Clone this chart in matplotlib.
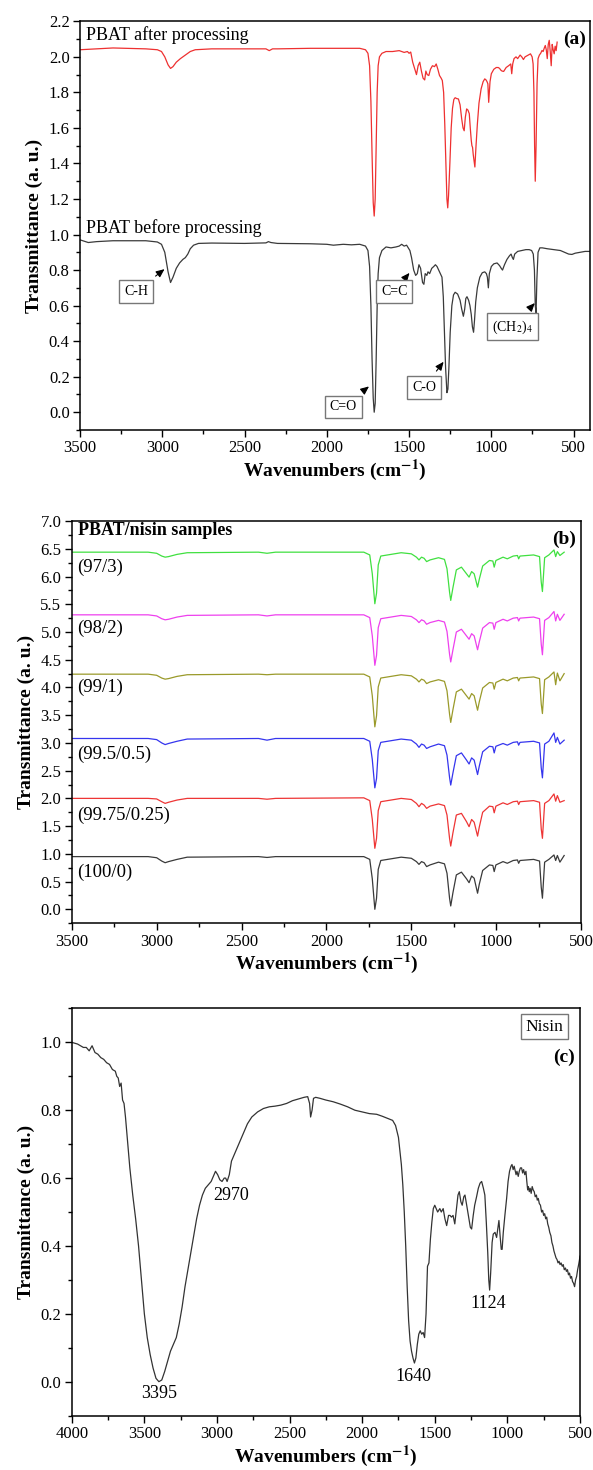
import numpy as np
import matplotlib
matplotlib.use("Agg")
import matplotlib.pyplot as plt
from matplotlib.ticker import MultipleLocator, FormatStrFormatter

plt.rcParams['font.family'] = ['Liberation Serif', 'DejaVu Serif']
plt.rcParams['mathtext.fontset'] = 'stix'

# ---------------- panel (a): PBAT before / after processing ----------------
wn_before = [3500, 3450, 3400, 3300, 3100, 3030, 3005, 2985, 2965, 2950,
             2935, 2915, 2895, 2875, 2860, 2845, 2830, 2810, 2780, 2700,
             2500, 2370, 2355, 2340, 2300, 2100, 2000, 1960, 1900, 1850,
             1800, 1765, 1750, 1740, 1732, 1725, 1718, 1712, 1706, 1700,
             1694, 1688, 1680, 1665, 1640, 1610, 1580, 1560, 1545, 1530,
             1515, 1505, 1495, 1485, 1472, 1460, 1450, 1440, 1430, 1418,
             1410, 1402, 1392, 1385, 1375, 1362, 1350, 1340, 1330, 1320,
             1310, 1300, 1292, 1285, 1278, 1270, 1264, 1258, 1250, 1240,
             1230, 1220, 1205, 1190, 1180, 1170, 1162, 1155, 1148, 1138,
             1130, 1122, 1115, 1108, 1102, 1095, 1085, 1070, 1055, 1040,
             1030, 1024, 1018, 1012, 1000, 985, 965, 950, 940, 932,
             920, 905, 890, 880, 872, 866, 858, 840, 815, 790,
             770, 755, 745, 738, 733, 728, 723, 716, 705, 690,
             660, 620, 580, 555, 530, 510, 490, 460, 430, 400]
t_before = [0.970, 0.955, 0.960, 0.965, 0.965, 0.958, 0.945, 0.900, 0.790, 0.730,
            0.760, 0.810, 0.840, 0.860, 0.870, 0.890, 0.920, 0.940, 0.950, 0.952,
            0.950, 0.953, 0.960, 0.955, 0.950, 0.948, 0.945, 0.940, 0.945, 0.942,
            0.945, 0.935, 0.910, 0.820, 0.600, 0.300, 0.080, 0.000, 0.050, 0.300,
            0.600, 0.780, 0.870, 0.910, 0.930, 0.925, 0.930, 0.935, 0.945, 0.935,
            0.940, 0.925, 0.910, 0.870, 0.800, 0.770, 0.780, 0.830, 0.810, 0.730,
            0.720, 0.780, 0.770, 0.790, 0.780, 0.810, 0.820, 0.830, 0.820, 0.800,
            0.780, 0.760, 0.650, 0.450, 0.250, 0.110, 0.130, 0.250, 0.450, 0.600,
            0.660, 0.675, 0.665, 0.630, 0.580, 0.540, 0.580, 0.640, 0.650, 0.630,
            0.600, 0.550, 0.480, 0.450, 0.520, 0.620, 0.700, 0.760, 0.785, 0.790,
            0.780, 0.760, 0.700, 0.780, 0.820, 0.835, 0.840, 0.825, 0.810, 0.800,
            0.830, 0.860, 0.880, 0.890, 0.870, 0.860, 0.890, 0.905, 0.910, 0.915,
            0.915, 0.910, 0.890, 0.800, 0.600, 0.560, 0.750, 0.900, 0.925, 0.925,
            0.920, 0.915, 0.910, 0.900, 0.890, 0.888, 0.895, 0.900, 0.905, 0.905]

wn_after = [3500, 3400, 3300, 3100, 3030, 3005, 2985, 2965, 2950, 2935,
            2915, 2890, 2860, 2830, 2800, 2700, 2500, 2370, 2350, 2330,
            2300, 2100, 1900, 1800, 1765, 1750, 1740, 1732, 1725, 1718,
            1712, 1706, 1700, 1694, 1688, 1680, 1665, 1640, 1600, 1560,
            1530, 1510, 1500, 1490, 1478, 1465, 1455, 1445, 1435, 1425,
            1415, 1405, 1398, 1390, 1380, 1370, 1358, 1345, 1335, 1325,
            1315, 1305, 1298, 1290, 1283, 1276, 1270, 1265, 1260, 1252,
            1244, 1236, 1228, 1220, 1210, 1200, 1190, 1180, 1172, 1165,
            1158, 1150, 1142, 1134, 1128, 1122, 1118, 1114, 1110, 1106,
            1100, 1093, 1085, 1075, 1062, 1050, 1040, 1032, 1026, 1021,
            1016, 1008, 1000, 985, 970, 958, 950, 942, 935, 925,
            910, 895, 882, 876, 870, 862, 850, 840, 825, 815,
            805, 795, 785, 775, 762, 752, 746, 741, 737, 733,
            728, 722, 716, 708, 700, 692, 685, 678, 672, 666,
            660, 654, 648, 642, 636, 630, 624, 618, 612, 606,
            600]
t_after = [2.040, 2.045, 2.050, 2.045, 2.040, 2.030, 2.000, 1.955, 1.935, 1.945,
           1.970, 1.990, 2.010, 2.030, 2.040, 2.045, 2.045, 2.045, 2.035, 2.045,
           2.045, 2.048, 2.048, 2.048, 2.040, 2.020, 1.950, 1.750, 1.450, 1.180,
           1.104, 1.200, 1.500, 1.800, 1.950, 2.000, 2.020, 2.030, 2.030, 2.035,
           2.025, 2.030, 2.020, 2.027, 1.970, 1.930, 1.900, 1.950, 1.970, 1.920,
           1.880, 1.870, 1.920, 1.900, 1.895, 1.930, 1.950, 1.945, 1.960, 1.930,
           1.895, 1.880, 1.867, 1.800, 1.620, 1.400, 1.200, 1.150, 1.220, 1.400,
           1.600, 1.710, 1.760, 1.770, 1.765, 1.763, 1.730, 1.650, 1.600, 1.584,
           1.660, 1.707, 1.700, 1.680, 1.600, 1.530, 1.500, 1.490, 1.450, 1.420,
           1.380, 1.500, 1.620, 1.740, 1.820, 1.860, 1.876, 1.870, 1.860, 1.848,
           1.744, 1.860, 1.905, 1.930, 1.940, 1.940, 1.935, 1.925, 1.920, 1.918,
           1.940, 1.950, 1.960, 1.905, 1.960, 1.990, 2.000, 1.990, 2.010, 2.000,
           1.985, 2.000, 2.005, 2.010, 2.017, 2.000, 1.960, 1.800, 1.500, 1.300,
           1.500, 1.850, 1.990, 2.010, 2.020, 2.036, 2.030, 2.050, 2.064, 2.040,
           1.990, 2.070, 2.093, 2.030, 1.950, 2.070, 2.040, 2.017, 2.060, 2.035,
           2.083]

# band labels: text, arrow head (x, y), box centre (x, y)
band_labels = ["C-H", "C=C", "C=O", "C-O", "(CH$_2$)$_4$"]
band_heads = [(2980, 0.81), (1492, 0.79), (1737, 0.15), (1285, 0.29), (730, 0.62)]
band_boxes = [(3160, 0.68), (1590, 0.68), (1900, 0.03), (1410, 0.14), (870, 0.48)]

# ---------------- panel (b): PBAT/nisin films ----------------
wn_b = [3500, 3050, 3000, 2970, 2950, 2930, 2880, 2820, 2400, 2350,
        2300, 1780, 1745, 1730, 1715, 1705, 1695, 1680, 1560, 1500,
        1470, 1455, 1440, 1425, 1410, 1390, 1340, 1305, 1290, 1275,
        1268, 1255, 1235, 1205, 1175, 1160, 1145, 1130, 1110, 1100,
        1080, 1040, 1020, 1012, 1002, 960, 935, 900, 875, 868,
        860, 780, 745, 735, 728, 715, 690, 660, 650, 640,
        625, 600]
t_100_0 = [0.95, 0.95, 0.93, 0.87, 0.84, 0.86, 0.90, 0.94, 0.95, 0.935,
           0.95, 0.95, 0.90, 0.55, 0.00, 0.20, 0.72, 0.88, 0.94, 0.92,
           0.86, 0.81, 0.86, 0.84, 0.77, 0.80, 0.85, 0.82, 0.65, 0.20,
           0.06, 0.30, 0.62, 0.67, 0.55, 0.48, 0.60, 0.56, 0.29, 0.45,
           0.70, 0.80, 0.79, 0.68, 0.80, 0.86, 0.83, 0.88, 0.89, 0.83,
           0.88, 0.90, 0.87, 0.40, 0.20, 0.85, 0.90, 0.98, 0.88, 0.97,
           0.85, 0.97]
t_9975 = [2.00, 2.00, 1.99, 1.94, 1.91, 1.93, 1.97, 2.00, 2.00, 1.985,
          2.00, 2.01, 1.96, 1.62, 1.10, 1.28, 1.78, 1.94, 2.00, 1.98,
          1.91, 1.85, 1.91, 1.88, 1.82, 1.86, 1.90, 1.87, 1.70, 1.28,
          1.14, 1.38, 1.70, 1.73, 1.58, 1.49, 1.62, 1.57, 1.32, 1.48,
          1.75, 1.86, 1.85, 1.74, 1.86, 1.92, 1.89, 1.94, 1.95, 1.89,
          1.94, 1.96, 1.93, 1.45, 1.28, 1.91, 1.96, 2.08, 1.95, 2.05,
          1.93, 1.96]
t_995 = [3.08, 3.08, 3.06, 3.00, 2.97, 2.99, 3.03, 3.07, 3.08, 3.05,
         3.08, 3.08, 3.03, 2.70, 2.19, 2.36, 2.86, 3.01, 3.07, 3.05,
         2.98, 2.92, 2.98, 2.96, 2.90, 2.93, 2.98, 2.95, 2.78, 2.38,
         2.24, 2.46, 2.77, 2.82, 2.69, 2.62, 2.73, 2.69, 2.43, 2.58,
         2.84, 2.94, 2.93, 2.82, 2.94, 2.99, 2.96, 3.01, 3.02, 2.96,
         3.01, 3.03, 3.00, 2.55, 2.37, 2.98, 3.03, 3.18, 3.01, 3.10,
         2.98, 3.05]
t_99 = [4.24, 4.24, 4.22, 4.17, 4.15, 4.16, 4.20, 4.23, 4.24, 4.23,
        4.24, 4.24, 4.19, 3.85, 3.29, 3.49, 4.01, 4.17, 4.23, 4.21,
        4.15, 4.10, 4.15, 4.13, 4.07, 4.10, 4.14, 4.11, 3.94, 3.52,
        3.37, 3.60, 3.92, 3.97, 3.85, 3.79, 3.89, 3.85, 3.59, 3.74,
        3.99, 4.09, 4.08, 3.97, 4.09, 4.15, 4.12, 4.17, 4.18, 4.12,
        4.17, 4.19, 4.16, 3.70, 3.53, 4.14, 4.19, 4.28, 4.05, 4.26,
        4.12, 4.25]
t_98 = [5.31, 5.31, 5.29, 5.24, 5.22, 5.23, 5.27, 5.30, 5.31, 5.29,
        5.31, 5.31, 5.26, 4.93, 4.40, 4.58, 5.08, 5.24, 5.30, 5.28,
        5.22, 5.17, 5.22, 5.20, 5.14, 5.17, 5.21, 5.18, 5.01, 4.60,
        4.46, 4.68, 5.00, 5.05, 4.93, 4.87, 4.97, 4.93, 4.68, 4.82,
        5.07, 5.17, 5.16, 5.05, 5.17, 5.23, 5.20, 5.25, 5.26, 5.20,
        5.25, 5.27, 5.24, 4.78, 4.59, 5.21, 5.26, 5.37, 5.20, 5.32,
        5.21, 5.32]
t_97 = [6.44, 6.44, 6.42, 6.37, 6.35, 6.36, 6.40, 6.43, 6.44, 6.42,
        6.44, 6.44, 6.39, 6.05, 5.51, 5.70, 6.21, 6.37, 6.43, 6.41,
        6.35, 6.30, 6.35, 6.33, 6.27, 6.30, 6.34, 6.31, 6.14, 5.72,
        5.57, 5.80, 6.12, 6.17, 6.05, 5.99, 6.09, 6.05, 5.81, 5.95,
        6.19, 6.29, 6.28, 6.17, 6.29, 6.35, 6.32, 6.37, 6.38, 6.32,
        6.37, 6.39, 6.36, 5.90, 5.73, 6.34, 6.39, 6.48, 6.36, 6.45,
        6.38, 6.44]
sample_names = ["(100/0)", "(99.75/0.25)", "(99.5/0.5)", "(99/1)", "(98/2)", "(97/3)"]
sample_series = [t_100_0, t_9975, t_995, t_99, t_98, t_97]
sample_colors = ["#3a3a3a", "#ee3535", "#3535ee", "#9a9a2a", "#ee40ee", "#40e040"]
sample_label_y = [0.67, 1.70, 2.80, 4.01, 5.06, 6.17]

# ---------------- panel (c): nisin ----------------
wn_nisin = [4000, 3960, 3940, 3920, 3900, 3880, 3860, 3840, 3820, 3800,
            3780, 3760, 3740, 3720, 3700, 3690, 3680, 3670, 3660, 3650,
            3640, 3630, 3620, 3600, 3580, 3560, 3540, 3520, 3500, 3480,
            3460, 3440, 3420, 3400, 3380, 3360, 3340, 3320, 3300, 3280,
            3260, 3240, 3220, 3200, 3180, 3160, 3140, 3120, 3100, 3080,
            3060, 3040, 3020, 3010, 2995, 2980, 2965, 2950, 2940, 2930,
            2915, 2900, 2880, 2860, 2840, 2820, 2790, 2760, 2720, 2680,
            2640, 2600, 2560, 2520, 2480, 2440, 2400, 2375, 2362, 2355,
            2345, 2335, 2320, 2290, 2250, 2200, 2150, 2100, 2050, 2000,
            1950, 1900, 1860, 1820, 1790, 1770, 1750, 1740, 1730, 1720,
            1710, 1700, 1690, 1680, 1670, 1660, 1650, 1640, 1630, 1620,
            1610, 1600, 1590, 1580, 1570, 1560, 1550, 1540, 1530, 1520,
            1510, 1500, 1490, 1480, 1465, 1455, 1442, 1430, 1418, 1405,
            1395, 1385, 1374, 1362, 1350, 1340, 1331, 1320, 1311, 1300,
            1292, 1280, 1265, 1255, 1246, 1235, 1225, 1212, 1200, 1188,
            1177, 1165, 1155, 1145, 1135, 1128, 1122, 1115, 1105, 1097,
            1085, 1074, 1066, 1058, 1050, 1042, 1036, 1028, 1017, 1005,
            995, 985, 975, 968, 960, 953, 948, 940, 934, 925,
            918, 910, 902, 895, 888, 880, 872, 866, 860, 855,
            849, 843, 836, 829, 822, 815, 808, 800, 794, 787,
            780, 772, 764, 757, 750, 743, 736, 729, 722, 715,
            708, 700, 693, 686, 679, 672, 665, 658, 651, 644,
            637, 630, 622, 615, 608, 600, 593, 586, 579, 572,
            565, 558, 551, 544, 537, 530, 523, 516, 509, 503,
            500]
t_nisin = [1.000, 0.995, 0.990, 0.985, 0.985, 0.975, 0.990, 0.970, 0.965, 0.955,
           0.950, 0.940, 0.935, 0.920, 0.915, 0.900, 0.895, 0.870, 0.880, 0.830,
           0.820, 0.780, 0.730, 0.630, 0.550, 0.480, 0.400, 0.300, 0.200, 0.130,
           0.080, 0.040, 0.010, 0.000, 0.005, 0.030, 0.060, 0.090, 0.110, 0.130,
           0.170, 0.220, 0.280, 0.330, 0.380, 0.430, 0.480, 0.520, 0.550, 0.570,
           0.580, 0.590, 0.610, 0.620, 0.610, 0.595, 0.590, 0.600, 0.600, 0.590,
           0.610, 0.650, 0.670, 0.690, 0.710, 0.730, 0.760, 0.780, 0.795, 0.805,
           0.810, 0.812, 0.815, 0.820, 0.828, 0.833, 0.838, 0.840, 0.820, 0.780,
           0.800, 0.835, 0.838, 0.835, 0.830, 0.825, 0.818, 0.810, 0.800, 0.795,
           0.790, 0.788, 0.782, 0.775, 0.770, 0.755, 0.720, 0.680, 0.640, 0.580,
           0.500, 0.400, 0.280, 0.180, 0.120, 0.090, 0.070, 0.055, 0.070, 0.110,
           0.140, 0.150, 0.140, 0.145, 0.130, 0.200, 0.340, 0.350, 0.420, 0.470,
           0.510, 0.520, 0.510, 0.500, 0.510, 0.500, 0.510, 0.480, 0.460, 0.490,
           0.490, 0.485, 0.490, 0.465, 0.510, 0.550, 0.560, 0.530, 0.520, 0.545,
           0.550, 0.520, 0.480, 0.455, 0.450, 0.490, 0.520, 0.545, 0.570, 0.585,
           0.590, 0.570, 0.550, 0.470, 0.380, 0.300, 0.270, 0.320, 0.410, 0.435,
           0.440, 0.425, 0.450, 0.475, 0.430, 0.390, 0.390, 0.440, 0.490, 0.540,
           0.590, 0.620, 0.635, 0.640, 0.625, 0.635, 0.625, 0.610, 0.620, 0.605,
           0.620, 0.630, 0.630, 0.615, 0.625, 0.610, 0.620, 0.590, 0.565, 0.575,
           0.560, 0.570, 0.555, 0.575, 0.565, 0.560, 0.545, 0.550, 0.535, 0.540,
           0.525, 0.520, 0.500, 0.505, 0.490, 0.495, 0.480, 0.485, 0.465, 0.455,
           0.440, 0.430, 0.410, 0.400, 0.385, 0.375, 0.365, 0.360, 0.350, 0.355,
           0.345, 0.350, 0.340, 0.345, 0.330, 0.335, 0.325, 0.330, 0.315, 0.320,
           0.305, 0.310, 0.295, 0.290, 0.280, 0.300, 0.310, 0.330, 0.345, 0.360,
           0.370]
peak_labels = ["3395", "2970", "1640", "1124"]
peak_pos = [(3400, -0.035), (2905, 0.55), (1645, 0.015), (1135, 0.23)]


def style_axes(ax, xmaj, ymaj):
    ax.xaxis.set_major_locator(MultipleLocator(xmaj))
    ax.xaxis.set_minor_locator(MultipleLocator(xmaj / 2))
    ax.yaxis.set_major_locator(MultipleLocator(ymaj))
    ax.yaxis.set_minor_locator(MultipleLocator(ymaj / 2))
    ax.yaxis.set_major_formatter(FormatStrFormatter('%.1f'))
    ax.tick_params(which='both', direction='out', top=False, right=False,
                   labelsize=12, width=1.0, pad=2.5)
    ax.tick_params(which='major', length=5)
    ax.tick_params(which='minor', length=3)
    for s in ax.spines.values():
        s.set_linewidth(1.1)
    ax.set_xlabel("Wavenumbers (cm$^{\\mathbf{-1}}$)", fontsize=14,
                  fontweight='bold', labelpad=1)
    ax.set_ylabel("Transmittance (a. u.)", fontsize=14, fontweight='bold')


fig = plt.figure(figsize=(5.93, 14.7), dpi=100)

# (a)
ax = fig.add_axes([0.135, 0.7075, 0.860, 0.278])
ax.plot(wn_before, t_before, color="#3a3a3a", lw=0.9)
ax.plot(wn_after, t_after, color="#ee3030", lw=0.9)
ax.set_xlim(3500, 400)
ax.set_ylim(-0.1, 2.2)
style_axes(ax, 500, 0.2)
ax.text(3465, 2.12, "PBAT after processing", fontsize=13, va='center')
ax.text(3465, 1.035, "PBAT before processing", fontsize=13, va='center')
ax.text(0.993, 0.955, "(a)", transform=ax.transAxes, ha='right', va='center',
        fontsize=14, fontweight='bold')
for lab, head, box in zip(band_labels, band_heads, band_boxes):
    ax.annotate(lab, xy=head, xytext=box, fontsize=10, ha='center', va='center',
                bbox=dict(boxstyle='square,pad=0.35', fc='white', ec='#777777', lw=1.0),
                arrowprops=dict(arrowstyle='-|>,head_length=0.5,head_width=0.22',
                                color='black', lw=0.8, shrinkA=4, shrinkB=1))

# (b)
ax = fig.add_axes([0.121, 0.372, 0.859, 0.2735])
for series, col in zip(sample_series, sample_colors):
    ax.plot(wn_b, series, color=col, lw=0.9)
for name, ly in zip(sample_names, sample_label_y):
    ax.text(3470, ly, name, fontsize=13.5, va='center')
ax.set_xlim(3500, 500)
ax.set_ylim(-0.25, 7.0)
style_axes(ax, 500, 0.5)
ax.text(3465, 6.83, "PBAT/nisin samples", fontsize=13, fontweight='bold', va='center')
ax.text(0.99, 0.955, "(b)", transform=ax.transAxes, ha='right', va='center',
        fontsize=14, fontweight='bold')

# (c)
ax = fig.add_axes([0.121, 0.037, 0.857, 0.277])
ax.plot(wn_nisin, t_nisin, color="#333333", lw=0.9)
for lab, pos in zip(peak_labels, peak_pos):
    ax.text(pos[0], pos[1], lab, fontsize=13, ha='center', va='center')
ax.set_xlim(4000, 500)
ax.set_ylim(-0.1, 1.1)
style_axes(ax, 500, 0.2)
ax.text(0.93, 0.955, "Nisin", transform=ax.transAxes, ha='center', va='center',
        fontsize=12.5, bbox=dict(boxstyle='square,pad=0.25', fc='white', ec='#777777', lw=1.0))
ax.text(0.99, 0.88, "(c)", transform=ax.transAxes, ha='right', va='center',
        fontsize=14, fontweight='bold')

fig.savefig("out.png", dpi=100)
